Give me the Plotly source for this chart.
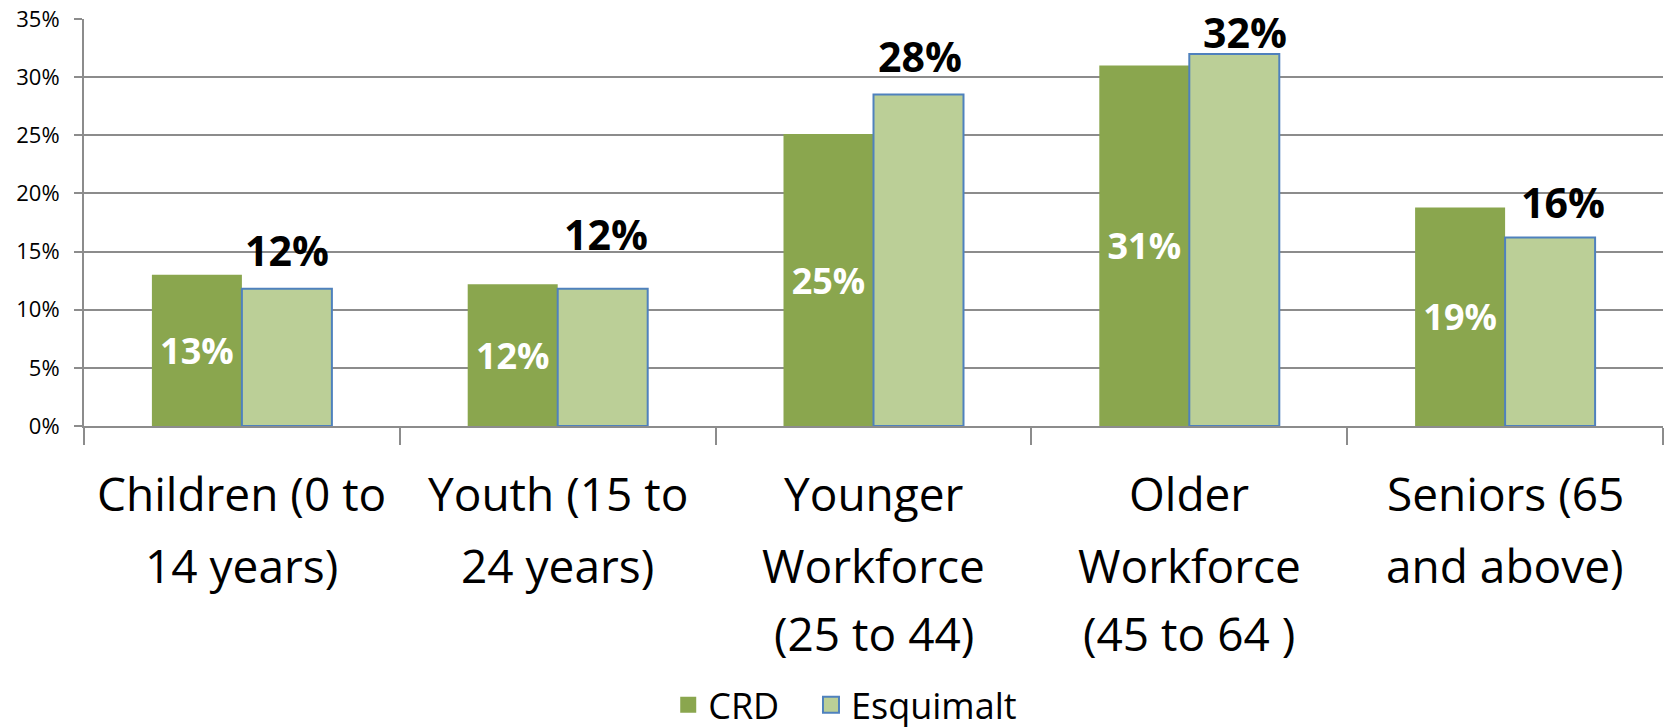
import plotly.graph_objects as go

categories = ["Children (0 to 14 years)", "Youth (15 to 24 years)",
              "Younger Workforce (25 to 44)", "Older Workforce (45 to 64 )",
              "Seniors (65 and above)"]
category_lines = [["Children (0 to", "14 years)"],
                  ["Youth (15 to", "24 years)"],
                  ["Younger", "Workforce", "(25 to 44)"],
                  ["Older", "Workforce", "(45 to 64 )"],
                  ["Seniors (65", "and above)"]]
crd = [13.0, 12.2, 25.1, 31.0, 18.8]
esquimalt = [11.8, 11.8, 28.5, 32.0, 16.2]
y_ticks = [0, 5, 10, 15, 20, 25, 30, 35]

# label placement tweaks (pixels), matching the hand-placed labels
esq_label_dx = [0, 3, 1, 11, 13]
esq_label_dy = [9, 25, 9, -8, 6]

CRD_COLOR = "#8AA64E"
ESQ_COLOR = "#BBCF97"
ESQ_LINE = "#4F81BD"
GRID = "#8C8C8C"
FONT = "Open Sans"
BARGAP = 0.43

fig = go.Figure()
fig.add_trace(go.Bar(
    x=categories, y=crd, name="CRD", marker=dict(color=CRD_COLOR, line=dict(width=0)),
    text=[f"{v:.0f}%" for v in crd], textposition="inside", insidetextanchor="middle",
    textangle=0, textfont=dict(family=FONT, size=36, color="white", weight="bold"),
    showlegend=False,
))
fig.add_trace(go.Bar(
    x=categories, y=esquimalt, name="Esquimalt",
    marker=dict(color=ESQ_COLOR, line=dict(color=ESQ_LINE, width=2)),
    showlegend=False,
))
# legend proxies (one legend each so the spacing can match)
fig.add_trace(go.Scatter(x=[None], y=[None], mode="markers", name="CRD", legend="legend",
                         marker=dict(symbol="square", size=24, color=CRD_COLOR)))
fig.add_trace(go.Scatter(x=[None], y=[None], mode="markers", name="Esquimalt", legend="legend2",
                         marker=dict(symbol="square", size=24, color=ESQ_COLOR,
                                     line=dict(color=ESQ_LINE, width=2))))

annotations = []
half = (1 - BARGAP) / 4
for i, v in enumerate(esquimalt):
    annotations.append(dict(
        x=i + half, y=v, xref="x", yref="y", text=f"{v:.0f}%", showarrow=False,
        yanchor="bottom", xanchor="center", xshift=esq_label_dx[i], yshift=esq_label_dy[i],
        font=dict(family=FONT, size=41, color="black", weight="bold"),
    ))
line_shifts = [-67, -139, -207]
for i, lines in enumerate(category_lines):
    for j, ln in enumerate(lines):
        annotations.append(dict(
            x=i, y=0, xref="x", yref="paper", text=ln, showarrow=False,
            yanchor="middle", xanchor="center", yshift=line_shifts[j],
            font=dict(family=FONT, size=46, color="black"),
        ))

legend_style = dict(orientation="h", y=-0.685, xanchor="left", yanchor="middle",
                    font=dict(family=FONT, size=36, color="black"), itemsizing="trace",
                    bgcolor="rgba(0,0,0,0)")

fig.update_layout(
    width=1667, height=727,
    margin=dict(l=84, r=4, t=19, b=301, autoexpand=False),
    plot_bgcolor="white", paper_bgcolor="white",
    barmode="group", bargap=BARGAP, bargroupgap=0,
    font=dict(family=FONT, color="black"),
    annotations=annotations,
    legend=dict(x=0.370, **legend_style),
    legend2=dict(x=0.4604, **legend_style),
)
fig.update_xaxes(
    type="category", categoryorder="array", categoryarray=categories,
    showticklabels=False, showline=True, linecolor=GRID, linewidth=2,
    ticks="outside", tickson="boundaries", ticklen=17, tickcolor=GRID, tickwidth=2,
    showgrid=False, zeroline=False, automargin=False,
)
fig.update_yaxes(
    range=[0, 35], tickvals=y_ticks, ticktext=[f"{t}%" for t in y_ticks],
    showgrid=True, gridcolor=GRID, gridwidth=2,
    showline=True, linecolor=GRID, linewidth=2,
    ticks="outside", ticklen=8, tickcolor=GRID, tickwidth=2,
    tickfont=dict(family=FONT, size=22, color="black"), ticklabelstandoff=10,
    ticklabeloverflow="allow", zeroline=False, automargin=False,
)

# remove the browser's default 8px body margin so the figure fills the window
fig.write_html("out.html", config={"displayModeBar": False},
               post_script="document.body.style.margin='0px';"
               "document.body.style.overflow='hidden';")
